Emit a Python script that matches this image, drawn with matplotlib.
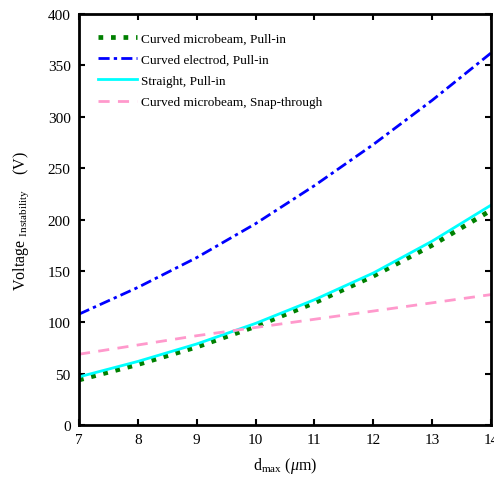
import matplotlib
matplotlib.use('Agg')
import matplotlib.pyplot as plt

plt.rcParams['font.family'] = 'Liberation Serif'
plt.rcParams['mathtext.fontset'] = 'custom'
plt.rcParams['mathtext.rm'] = 'Liberation Serif'
plt.rcParams['mathtext.it'] = 'Liberation Serif:italic'

# Data
d_max = [7, 8, 9, 10, 11, 12, 13, 14]
curved_beam_pullin = [44, 59, 76, 96, 119, 145, 175, 209]
curved_electrode_pullin = [108, 134, 163, 196, 233, 273, 316, 362]
straight_pullin = [47, 62, 79, 99, 122, 148, 179, 214]
curved_beam_snap = [69, 78, 87, 95, 103, 111, 119, 127]

fig = plt.figure(figsize=(4.94, 4.81), dpi=100)
ax = fig.add_axes([0.16, 0.114, 0.834, 0.855])

ax.plot(d_max, curved_beam_pullin, color='green', linestyle=':', linewidth=3.4,
        label='Curved microbeam, Pull-in')
ax.plot(d_max, curved_electrode_pullin, color='blue', linewidth=2,
        dashes=(4, 1.5, 1.2, 1.5), label='Curved electrod, Pull-in')
ax.plot(d_max, straight_pullin, color='cyan', linestyle='-', linewidth=2,
        label='Straight, Pull-in')
ax.plot(d_max, curved_beam_snap, color='#ff99cc', linewidth=2,
        dashes=(4, 3), label='Curved microbeam, Snap-through')

ax.set_xlim(7, 14)
ax.set_ylim(0, 400)
ax.set_xticks(range(7, 15))
ax.set_yticks(range(0, 401, 50))
ax.tick_params(direction='in', top=True, right=True, length=4, width=1.5,
               labelsize=11, pad=6)
for s in ax.spines.values():
    s.set_linewidth(2)

ax.set_xlabel(r'd$_{\rm max}$ ($\mu$m)', fontsize=11.5, labelpad=6)
ax.set_ylabel(r'Voltage $_{\rm Instability}$    (V)', fontsize=11.5, labelpad=12)

ax.legend(loc='upper left', frameon=False, fontsize=9.5, handlelength=3,
          labelspacing=0.68, borderaxespad=0.8, handletextpad=0.3,
          borderpad=0.6)

fig.savefig('out.png', dpi=100)
